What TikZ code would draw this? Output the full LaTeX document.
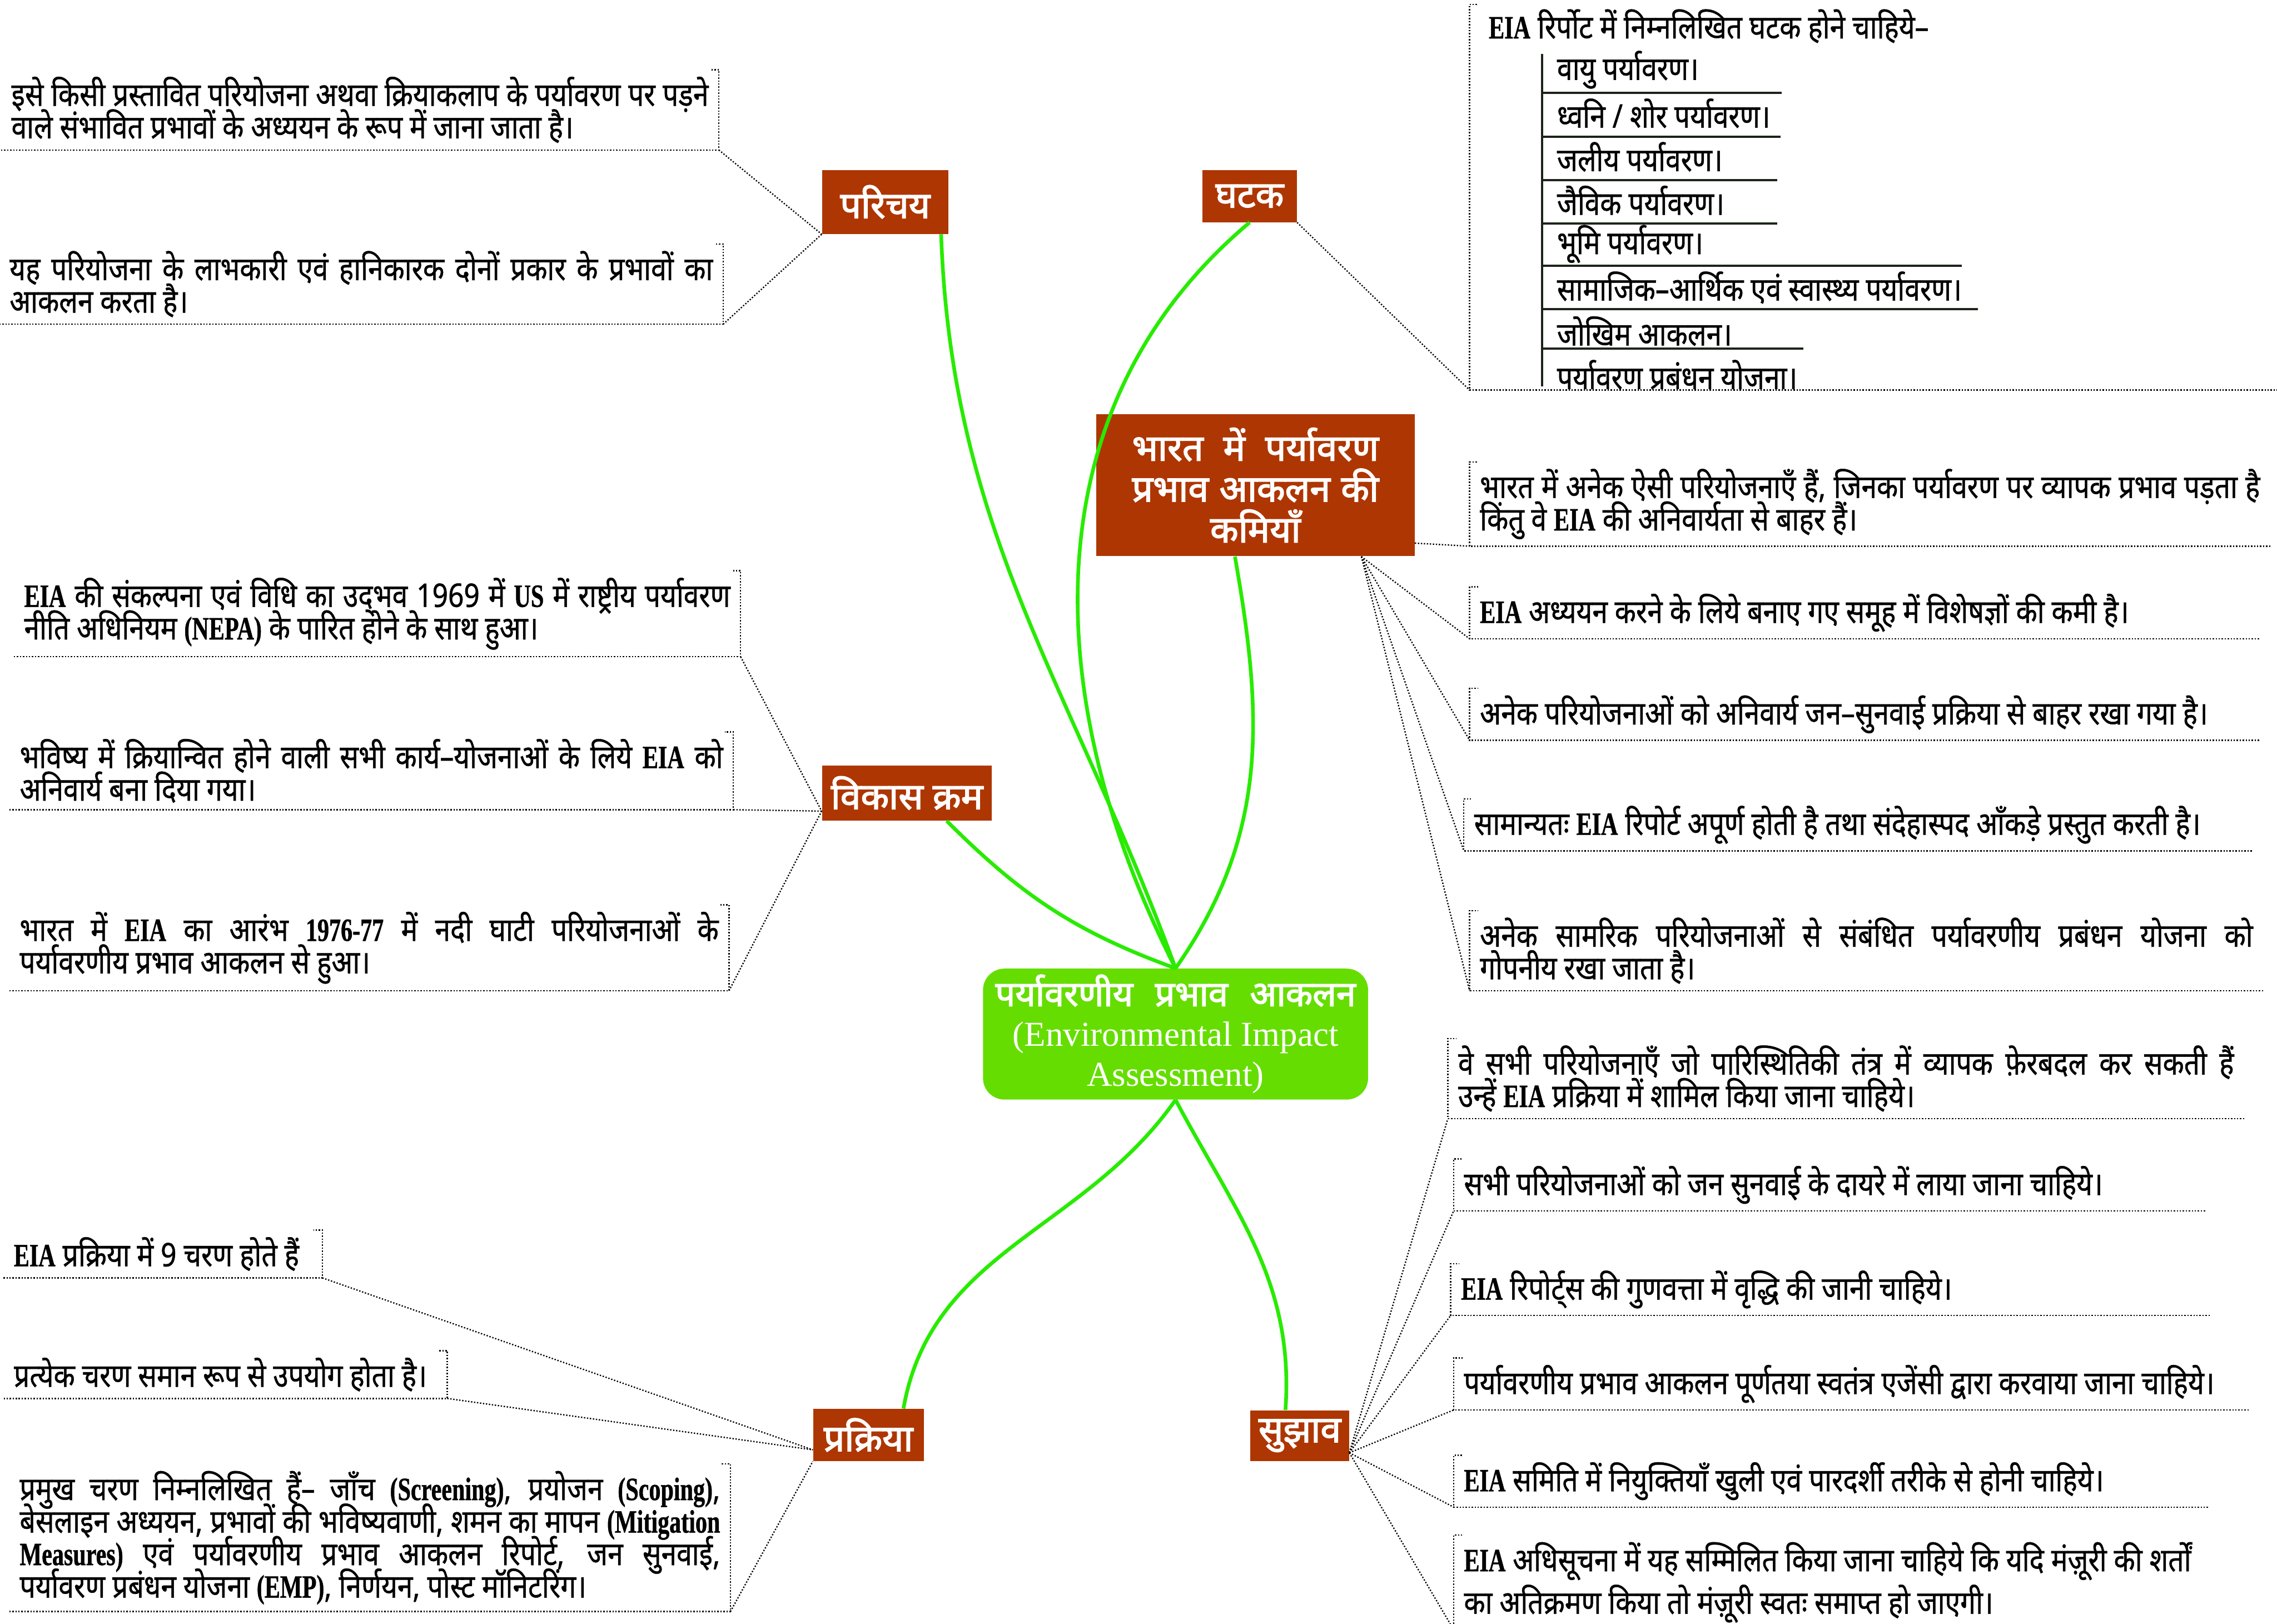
\documentclass[tikz,border=0pt]{standalone}
\usepackage{fontspec}
\setmainfont{Liberation Serif}
\newfontfamily\devfont[Script=Devanagari, FakeStretch=0.85, FakeBold=0.8]{Noto Sans}
\newfontfamily\devhead[Script=Devanagari, FakeBold=2.5]{Noto Sans}
\newfontfamily\enfont[FakeStretch=0.72, FakeBold=0.8]{Liberation Serif}
\newcommand{\en}[1]{{\enfont\bfseries #1}}
\newcommand{\leaffont}{\devfont\fontsize{19.5}{19.5}\selectfont\setlength{\lineskiplimit}{-50pt}\setlength{\lineskip}{0pt}}
\usepackage{tikz}
\usetikzlibrary{positioning,calc}
\definecolor{topicred}{RGB}{174,54,2}
\definecolor{rootgreen}{RGB}{102,221,0}
\definecolor{linkgreen}{RGB}{40,235,0}
\definecolor{listline}{RGB}{28,36,26}
\tikzset{
  rootnode/.style={
    rectangle, rounded corners=0.45cm, fill=rootgreen, text=white,
    minimum width=8.12cm, minimum height=2.76cm, inner sep=0pt,
    align=center, font=\fontsize{21}{24}\selectfont
  },
  topic/.style={
    rectangle, fill=topicred, text=white, inner sep=0pt,
    font=\devhead\fontsize{22}{24.5}\selectfont
  },
  leaf/.style={
    inner xsep=6pt, inner ysep=4pt, align=justify, font=\leaffont
  },
  bracket/.style={densely dotted, line width=0.8pt},
  spoke/.style={densely dotted, line width=0.8pt},
  branch/.style={draw=linkgreen, line width=2.2pt},
  listrule/.style={draw=listline, line width=1.3pt},
  listitem/.style={anchor=west, inner sep=0pt, font=\leaffont}
}

\begin{document}
\begin{tikzpicture}[x=0.030625cm, y=-0.030625cm]
  \useasboundingbox (0,0) rectangle (1568,1118);
  %\draw[help lines, step=50] (0,0) grid (1568,1118);

  % ==== ROOT ====
  \node[rootnode] (root) at (809.5,712)
    {{\devhead\makebox[7.6cm][s]{पर्यावरणीय प्रभाव आकलन}}\\(Environmental Impact\\Assessment)};

  % ==== TOPICS ====
  \node[topic, minimum width=2.66cm, minimum height=1.35cm] (intro)   at (609.5,139) {परिचय};
  \node[topic, minimum width=1.99cm, minimum height=1.10cm] (ghatak)  at (860.5,135) {घटक};
  \node[topic, minimum width=6.71cm, minimum height=3.00cm, align=center] (gaps) at (864.5,334)
    {\makebox[5.2cm][s]{भारत में पर्यावरण}\\\makebox[5.2cm][s]{प्रभाव आकलन की}\\कमियाँ};
  \node[topic, minimum width=3.58cm, minimum height=1.16cm] (vikas)   at (624.5,546) {विकास क्रम};
  \node[topic, minimum width=2.33cm, minimum height=1.10cm] (process) at (598,988) {प्रक्रिया};
  \node[topic, minimum width=2.08cm, minimum height=1.07cm] (sujhav)  at (895,988.5) {सुझाव};

  % ==== GREEN BRANCHES ====
  \draw[branch] (intro.-30)   to[out=-88, in=110] (root.north);
  \draw[branch] (ghatak.south) to[out=-140, in=117] (root.north);
  \draw[branch] (gaps.-106)   to[out=-80, in=55]  (root.north);
  \draw[branch] (vikas.-35)   to[out=-45, in=160] (root.north);
  \draw[branch] (root.south)  to[out=-125, in=80] (process.37);
  \draw[branch] (root.south)  to[out=-62, in=86]  (sujhav.119);

  % ==== INTRO (left) ====
  \node[leaf, text width=14.7cm, anchor=north east] (l1) at (495,48)
    {इसे किसी प्रस्तावित परियोजना अथवा क्रियाकलाप के पर्यावरण पर पड़ने\linebreak वाले संभावित प्रभावों के अध्ययन के रूप में जाना जाता है।};
  \node[leaf, text width=14.83cm, anchor=north east] (l2) at (498,168)
    {यह परियोजना के लाभकारी एवं हानिकारक दोनों प्रकार के प्रभावों का\linebreak आकलन करता है।};
  \draw[bracket] (l1.south west) -- (l1.south east) -- (l1.north east) -- +(-6,0);
  \draw[bracket] (l2.south west) -- (l2.south east) -- (l2.north east) -- +(-6,0);
  \draw[spoke] (l1.south east) -- (intro.south west);
  \draw[spoke] (l2.south east) -- (intro.south west);

  % ==== COMPONENTS (top right) ====
  \node[minimum width=17.03cm, minimum height=8.12cm, inner sep=0pt, anchor=north west] (gleaf) at (1012,3) {};
  \draw[bracket] (gleaf.south east) -- (gleaf.south west) -- (gleaf.north west) -- +(6,0);
  \draw[spoke] (ghatak.south east) -- (gleaf.south west);
  \node[listitem] (g0) at (1025,18) {\en{EIA} रिर्पोट में निम्नलिखित घटक होने चाहिये–};
  \node[listitem] (g1) at (1072,48)  {वायु पर्यावरण।};
  \node[listitem] (g2) at (1072,78)  {ध्वनि / शोर पर्यावरण।};
  \node[listitem] (g3) at (1072,108) {जलीय पर्यावरण।};
  \node[listitem] (g4) at (1072,138) {जैविक पर्यावरण।};
  \node[listitem] (g5) at (1072,168) {भूमि पर्यावरण।};
  \node[listitem] (g6) at (1072,198) {सामाजिक–आर्थिक एवं स्वास्थ्य पर्यावरण।};
  \node[listitem] (g7) at (1072,228) {जोखिम आकलन।};
  \node[listitem] (g8) at (1072,258) {पर्यावरण प्रबंधन योजना।};
  \draw[listrule] (1062,37) -- (1062,266);
  \draw[listrule] (1062,64)  -- (1227,64);
  \draw[listrule] (1062,94)  -- (1226,94);
  \draw[listrule] (1062,124) -- (1224,124);
  \draw[listrule] (1062,154) -- (1224,154);
  \draw[listrule] (1062,183) -- (1351,183);
  \draw[listrule] (1062,213) -- (1362,213);
  \draw[listrule] (1062,240) -- (1242,240);

  % ==== GAPS (right) ====
  \node[leaf, text width=16.45cm, anchor=north west] (k1) at (1012,318)
    {भारत में अनेक ऐसी परियोजनाएँ हैं, जिनका पर्यावरण पर व्यापक प्रभाव पड़ता है\linebreak किंतु वे \en{EIA} की अनिवार्यता से बाहर हैं।};
  \node[leaf, text width=16.21cm, anchor=north west] (k2) at (1012,404)
    {\en{EIA} अध्ययन करने के लिये बनाए गए समूह में विशेषज्ञों की कमी है।};
  \node[leaf, text width=16.21cm, anchor=north west] (k3) at (1012,474)
    {अनेक परियोजनाओं को अनिवार्य जन–सुनवाई प्रक्रिया से बाहर रखा गया है।};
  \node[leaf, text width=16.18cm, anchor=north west] (k4) at (1008,550)
    {सामान्यतः \en{EIA} रिपोर्ट अपूर्ण होती है तथा संदेहास्पद आँकड़े प्रस्तुत करती है।};
  \node[leaf, text width=16.3cm, anchor=north west] (k5) at (1012,627)
    {अनेक सामरिक परियोजनाओं से संबंधित पर्यावरणीय प्रबंधन योजना को\linebreak गोपनीय रखा जाता है।};
  \draw[bracket] (k1.south east) -- (k1.south west) -- (k1.north west) -- +(6,0);
  \draw[bracket] (k2.south east) -- (k2.south west) -- (k2.north west) -- +(6,0);
  \draw[bracket] (k3.south east) -- (k3.south west) -- (k3.north west) -- +(6,0);
  \draw[bracket] (k4.south east) -- (k4.south west) -- (k4.north west) -- +(6,0);
  \draw[bracket] (k5.south east) -- (k5.south west) -- (k5.north west) -- +(6,0);
  \draw[spoke] (gaps.-20) -- (k1.south west);
  \draw[spoke] (gaps.-34) -- (k2.south west);
  \draw[spoke] (gaps.-34) -- (k3.south west);
  \draw[spoke] (gaps.-34) -- (k4.south west);
  \draw[spoke] (gaps.-34) -- (k5.south west);

  % ==== HISTORY (left) ====
  \node[leaf, text width=14.89cm, anchor=north east] (v1) at (510,393)
    {\en{EIA} की संकल्पना एवं विधि का उद्^^^^200cभव 1969 में \en{US} में राष्ट्रीय पर्यावरण\linebreak नीति अधिनियम \en{(NEPA)} के पारित होने के साथ हुआ।};
  \node[leaf, text width=14.83cm, anchor=north east] (v2) at (505,504)
    {भविष्य में क्रियान्वित होने वाली सभी कार्य–योजनाओं के लिये \en{EIA} को\linebreak अनिवार्य बना दिया गया।};
  \node[leaf, text width=14.74cm, anchor=north east] (v3) at (502,623)
    {भारत में \en{EIA} का आरंभ \en{1976-77} में नदी घाटी परियोजनाओं के\linebreak पर्यावरणीय प्रभाव आकलन से हुआ।};
  \draw[bracket] (v1.south west) -- (v1.south east) -- (v1.north east) -- +(-6,0);
  \draw[bracket] (v2.south west) -- (v2.south east) -- (v2.north east) -- +(-6,0);
  \draw[bracket] (v3.south west) -- (v3.south east) -- (v3.north east) -- +(-6,0);
  \draw[spoke] (v1.south east) -- (vikas.-168);
  \draw[spoke] (v2.south east) -- (vikas.-168);
  \draw[spoke] (v3.south east) -- (vikas.-168);

  % ==== PROCESS (left) ====
  \node[leaf, text width=6.29cm, anchor=north east] (p1) at (222,847)
    {\en{EIA} प्रक्रिया में 9 चरण होते हैं};
  \node[leaf, text width=8.92cm, anchor=north east] (p2) at (308,930)
    {प्रत्येक चरण समान रूप से उपयोग होता है।};
  \node[leaf, text width=14.77cm, anchor=north east] (p3) at (503,1008)
    {प्रमुख चरण निम्नलिखित हैं– जाँच \en{(Screening)}, प्रयोजन \en{(Scoping)},\linebreak बेसलाइन अध्ययन, प्रभावों की भविष्यवाणी, शमन का मापन \en{(Mitigation}\linebreak \en{Measures)} एवं पर्यावरणीय प्रभाव आकलन रिपोर्ट, जन सुनवाई,\linebreak पर्यावरण प्रबंधन योजना \en{(EMP)}, निर्णयन, पोस्ट मॉनिटरिंग।};
  \draw[bracket] (p1.south west) -- (p1.south east) -- (p1.north east) -- +(-6,0);
  \draw[bracket] (p2.south west) -- (p2.south east) -- (p2.north east) -- +(-6,0);
  \draw[bracket] (p3.south west) -- (p3.south east) -- (p3.north east) -- +(-6,0);
  \draw[spoke] (p1.south east) -- (process.-165);
  \draw[spoke] (p2.south east) -- (process.-165);
  \draw[spoke] (p3.south east) -- (process.south west);

  % ==== SUGGESTIONS (right) ====
  \node[leaf, text width=16.36cm, anchor=north west] (s1) at (997,715)
    {वे सभी परियोजनाएँ जो पारिस्थितिकी तंत्र में व्यापक फ़ेरबदल कर सकती हैं\linebreak उन्हें \en{EIA} प्रक्रिया में शामिल किया जाना चाहिये।};
  \node[leaf, text width=15.41cm, anchor=north west] (s2) at (1001,798)
    {सभी परियोजनाओं को जन सुनवाई के दायरे में लाया जाना चाहिये।};
  \node[leaf, text width=15.57cm, anchor=north west] (s3) at (999,870)
    {\en{EIA} रिपोर्ट्^^^^200cस की गुणवत्ता में वृद्धि की जानी चाहिये।};
  \node[leaf, text width=16.33cm, anchor=north west] (s4) at (1001,935)
    {पर्यावरणीय प्रभाव आकलन पूर्णतया स्वतंत्र एजेंसी द्वारा करवाया जाना चाहिये।};
  \node[leaf, text width=15.47cm, anchor=north west] (s5) at (1001,1002)
    {\en{EIA} समिति में नियुक्तियाँ खुली एवं पारदर्शी तरीके से होनी चाहिये।};
  \node[leaf, text width=15.51cm, anchor=north west] (s6) at (1001,1057)
    {\en{EIA} अधिसूचना में यह सम्मिलित किया जाना चाहिये कि यदि मंज़ूरी की शर्तों\\[6pt]का अतिक्रमण किया तो मंज़ूरी स्वतः समाप्त हो जाएगी।};
  \draw[bracket] (s1.south east) -- (s1.south west) -- (s1.north west) -- +(6,0);
  \draw[bracket] (s2.south east) -- (s2.south west) -- (s2.north west) -- +(6,0);
  \draw[bracket] (s3.south east) -- (s3.south west) -- (s3.north west) -- +(6,0);
  \draw[bracket] (s4.south east) -- (s4.south west) -- (s4.north west) -- +(6,0);
  \draw[bracket] (s5.south east) -- (s5.south west) -- (s5.north west) -- +(6,0);
  \draw[bracket] (s6.south east) -- (s6.south west) -- (s6.north west) -- +(6,0);
  \draw[spoke] (sujhav.-19) -- (s1.south west);
  \draw[spoke] (sujhav.-19) -- (s2.south west);
  \draw[spoke] (sujhav.-19) -- (s3.south west);
  \draw[spoke] (sujhav.-19) -- (s4.south west);
  \draw[spoke] (sujhav.-19) -- (s5.south west);
  \draw[spoke] (sujhav.-19) -- (s6.south west);
\end{tikzpicture}
\end{document}
